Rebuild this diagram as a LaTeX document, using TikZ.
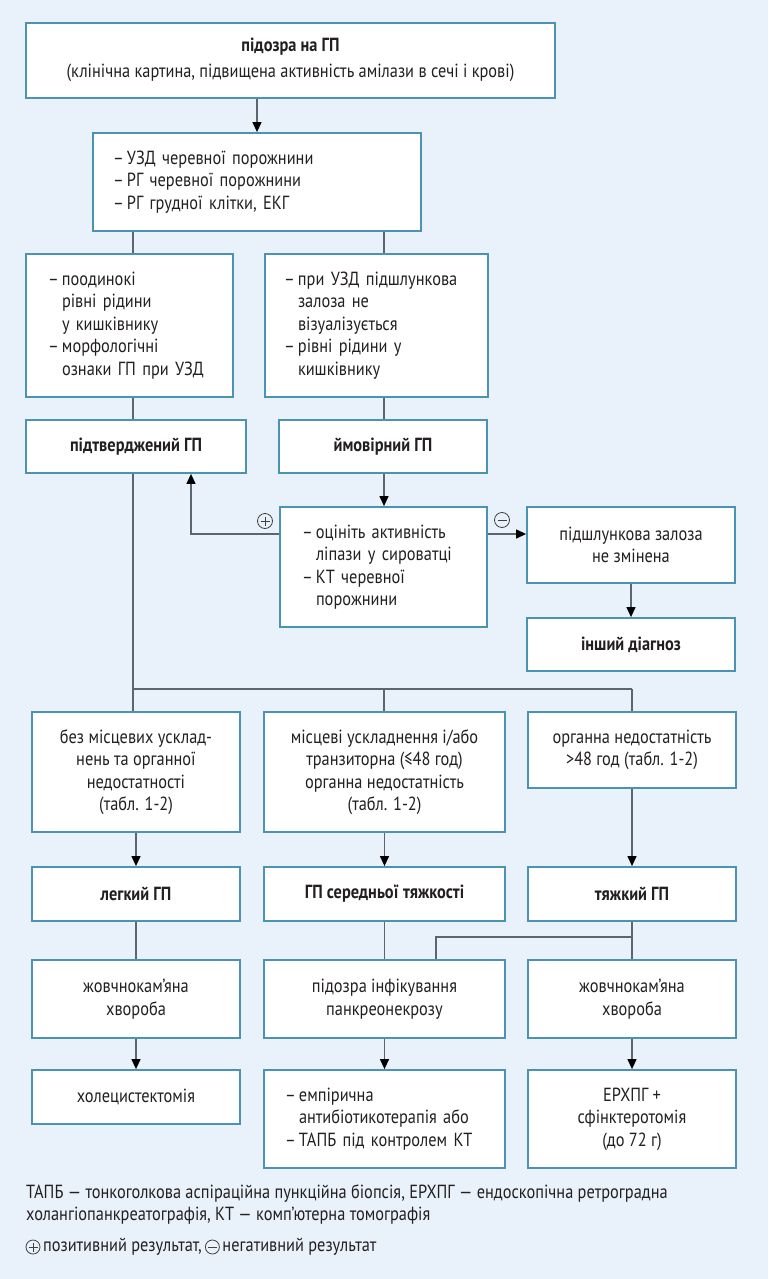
\documentclass[tikz,border=0pt]{standalone}
\usepackage{fontspec}
\setmainfont[FakeStretch=0.86]{PT Sans}
\usetikzlibrary{arrows.meta,calc}
\definecolor{bgc}{HTML}{E9F1FA}
\definecolor{boxc}{HTML}{4A93B3}
\definecolor{linec}{HTML}{5B6670}
\definecolor{txtc}{HTML}{231F20}
\newcommand\itm{\makebox[14pt][l]{–}}
\newcommand\contind{\hspace*{14pt}}
\newcommand\cbox[6]{%
  \pgfmathsetmacro\fbW{#4-#2}\pgfmathsetmacro\fbH{#5-#3}%
  \pgfmathsetmacro\fbX{(#2+#4)/2}\pgfmathsetmacro\fbY{(#3+#5)/2}%
  \node[box,minimum width=\fbW pt,minimum height=\fbH pt,align=center] (#1) at (\fbX,\fbY) {#6};}
\newcommand\lbox[7]{%
  \pgfmathsetmacro\fbW{#4-#2}\pgfmathsetmacro\fbH{#5-#3}%
  \pgfmathsetmacro\fbX{(#2+#4)/2}\pgfmathsetmacro\fbY{(#3+#5)/2}%
  \pgfmathsetmacro\fbT{#4-#2-2*#6}%
  \node[box,minimum width=\fbW pt,minimum height=\fbH pt,align=left,text width=\fbT pt,inner xsep=#6 pt] (#1) at (\fbX,\fbY) {#7};}
\begin{document}
\begin{tikzpicture}[x=1pt,y=-1pt,
  box/.style={draw=boxc,line width=1.8pt,fill=white,inner ysep=0pt,text=txtc,font=\fontsize{19}{22.5}\selectfont},
  ln/.style={draw=linec,line width=1.2pt},
  arr/.style={ln,-{Triangle[length=10pt,width=9pt,color=black]}},
  sgn/.style={circle,draw=black!75,line width=0.8pt,minimum size=15pt,inner sep=0pt},
  psign/.style={sgn,path picture={\draw[black!75,line width=0.8pt]
     ([xshift=-4.5pt]path picture bounding box.center) -- ([xshift=4.5pt]path picture bounding box.center)
     ([yshift=-4.5pt]path picture bounding box.center) -- ([yshift=4.5pt]path picture bounding box.center);}},
  msign/.style={sgn,path picture={\draw[black!75,line width=0.8pt]
     ([xshift=-4.5pt]path picture bounding box.center) -- ([xshift=4.5pt]path picture bounding box.center);}},
  foot/.style={text=txtc,font=\fontsize{19}{22.5}\selectfont,inner sep=0pt}]
\fill[bgc] (0,0) rectangle (768,1279);
\useasboundingbox (0,0) rectangle (768,1279);

\cbox{b1}{26}{23}{555}{98}{\mbox{}\\[-10.5pt]\textbf{підозра на ГП}\\[4pt](клінічна картина, підвищена активність амілази в сечі і крові)}
\lbox{b2}{93}{133}{421}{231}{20}{\itm УЗД черевної порожнини\\\itm РГ черевної порожнини\\\itm РГ грудної клітки, ЕКГ}
\lbox{b3}{26}{254}{233}{397}{22}{\itm поодинокі\\\contind рівні рідини\\\contind у кишківнику\\\itm морфологічні\\\contind ознаки ГП при УЗД}
\lbox{b4}{265}{254}{488}{397}{19}{\itm при УЗД підшлункова\\\contind залоза не\\\contind візуалізується\\\itm рівні рідини у\\\contind кишківнику}
\cbox{b5}{26}{420}{246}{473}{\textbf{підтверджений ГП}}
\cbox{b6}{279}{420}{487}{473}{\textbf{ймовірний ГП}}
\lbox{b7}{280}{507}{487}{627}{22}{\itm оцініть активність\\\contind ліпази у сироватці\\\itm КТ черевної\\\contind порожнини}
\cbox{b8}{527}{507}{735}{583}{підшлункова залоза\\не змінена}
\cbox{b9}{527}{618}{735}{671}{\textbf{інший діагноз}}
\cbox{b10}{32}{712}{240}{832}{без місцевих усклад-\\нень та органної\\недостатності\\(табл. 1-2)}
\cbox{b11}{264}{712}{505}{832}{місцеві ускладнення і/або\\транзиторна (≤48 год)\\органна недостатність\\(табл. 1-2)}
\cbox{b12}{528}{712}{736}{788}{органна недостатність\\>48 год (табл. 1-2)}
\cbox{b13}{32}{867}{240}{921}{\textbf{легкий ГП}}
\cbox{b14}{264}{867}{505}{921}{\textbf{ГП середньої тяжкості}}
\cbox{b15}{528}{867}{736}{921}{\textbf{тяжкий ГП}}
\cbox{b16}{32}{960}{240}{1038}{жовчнокам’яна\\хвороба}
\cbox{b17}{264}{960}{505}{1038}{підозра інфікування\\панкреонекрозу}
\cbox{b18}{528}{960}{736}{1038}{жовчнокам’яна\\хвороба}
\cbox{b19}{32}{1070}{240}{1124}{холецистектомія}
\lbox{b20}{264}{1070}{505}{1168}{21}{\itm емпірична\\\contind антибіотикотерапія або\\\itm ТАПБ під контролем КТ}
\cbox{b21}{528}{1070}{736}{1168}{ЕРХПГ +\\сфінктеротомія\\(до 72 г)}

% helper coordinates
\coordinate (xL) at (133,0);
\coordinate (xM) at (384,0);
\coordinate (xR) at (632,0);
\coordinate (pl) at (191,534);
\coordinate (bus) at (0,689);
\coordinate (jn) at (436,937);

\draw[arr] (b1.south -| b2.north) -- (b2.north);
\draw[ln] (b2.south -| xL) -- (b3.north -| xL);
\draw[ln] (b2.south -| xM) -- (b4.north -| xM);
\draw[ln] (b3.south -| xL) -- (b5.north -| xL);
\draw[ln] (b4.south -| xM) -- (b6.north -| xM);
\draw[arr] (b6.south -| xM) -- (b7.north -| xM);
\draw[arr] (pl -| b7.west) -- (pl) -- (pl |- b5.south);
\draw[arr] (pl -| b7.east) -- (pl -| b8.west);
\draw[arr] (b8.south) -- (b9.north);
\draw[ln] (b5.south -| xL) -- (bus -| xL) -- (bus -| xR);
\draw[ln] (bus -| xL) -- (b10.north -| xL);
\draw[ln] (bus -| xM) -- (b11.north -| xM);
\draw[ln] (bus -| xR) -- (b12.north -| xR);
\draw[arr] (b10.south) -- (b13.north);
\draw[arr] (b11.south) -- (b14.north);
\draw[arr] (b12.south) -- (b15.north);
\draw[ln] (b13.south) -- (b16.north);
\draw[ln] (b14.south) -- (b17.north);
\draw[ln] (b15.south) -- (b18.north);
\draw[ln] (jn -| b15.south) -- (jn) -- (jn |- b17.north);
\draw[arr] (b16.south) -- (b19.north);
\draw[arr] (b17.south) -- (b20.north);
\draw[arr] (b18.south) -- (b21.north);

\node[psign] (pls) at (265,521) {};
\node[msign] (mns) at (502,520) {};

% footer
\node[foot,anchor=base west] (ft1) at (26,1198) {ТАПБ — тонкоголкова аспіраційна пункційна біопсія, ЕРХПГ — ендоскопічна ретроградна};
\node[foot,anchor=base west] (ft2) at (26,1220) {холангіопанкреатографія, КТ — комп’ютерна томографія};
\node[psign,minimum size=14pt] (fp) at (33,1247) {};
\node[foot,anchor=west] (fpt) at ([xshift=2.5pt]fp.east) {позитивний результат,};
\node[msign,minimum size=14pt,anchor=west] (fm) at ([xshift=3pt]fpt.east) {};
\node[foot,anchor=west] (fmt) at ([xshift=2.5pt]fm.east) {негативний результат};
\end{tikzpicture}
\end{document}
